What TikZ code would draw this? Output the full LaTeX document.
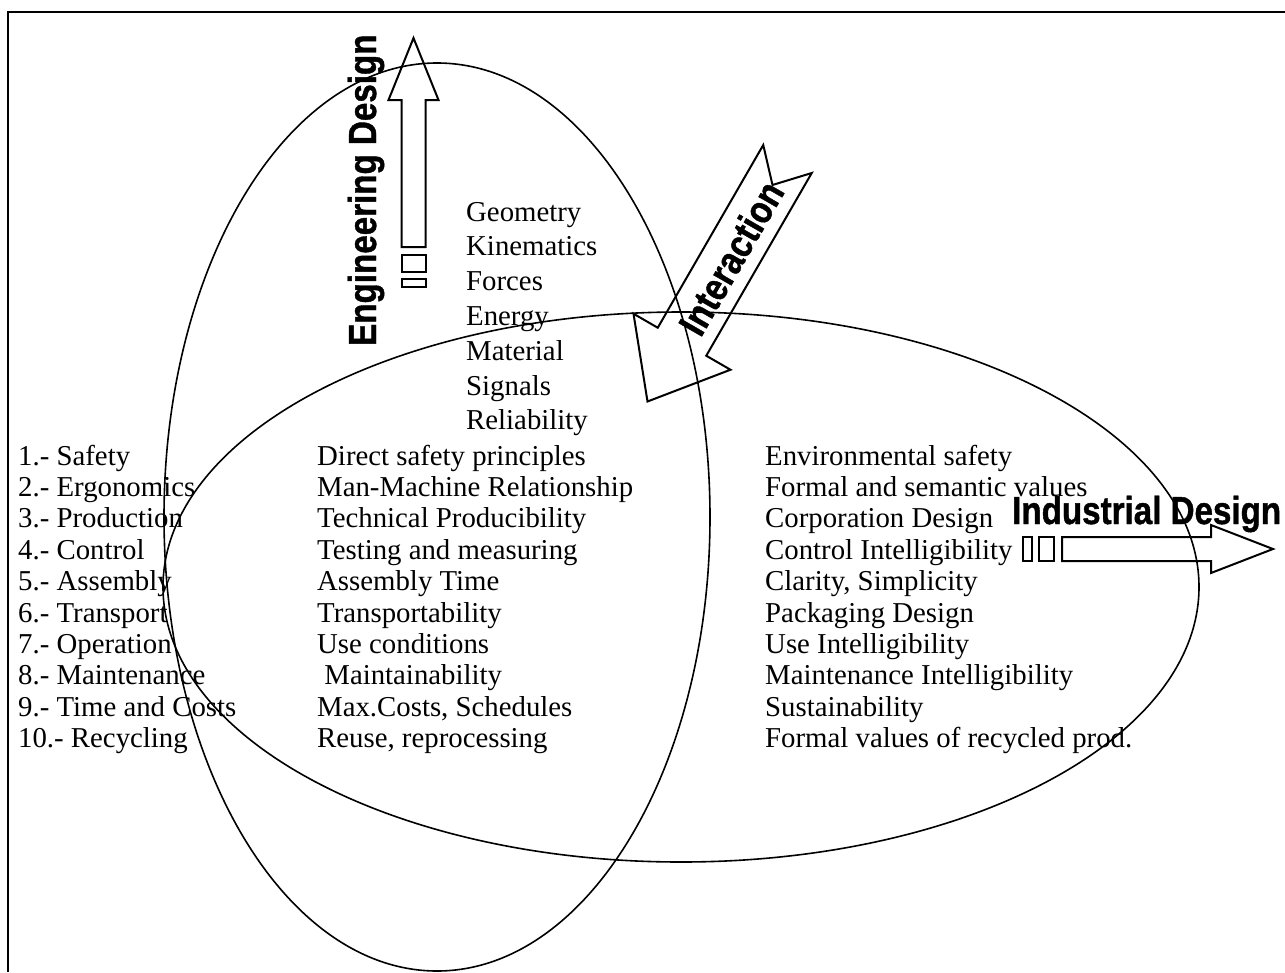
\documentclass[tikz,border=0pt]{standalone}
\usepackage{fontspec}
\setmainfont{Liberation Serif}
\newfontfamily\headfont{Liberation Sans}[BoldFeatures = {FakeBold = 1.2}]
\usepackage{tikz}

\newcommand{\narrow}[1]{\scalebox{0.85}[1]{#1}}

\begin{document}
\begin{tikzpicture}[
            x = 1pt,
            y = -1pt,
            item/.style = {anchor = base west, inner sep = 0pt,
                font = \fontsize{28.8}{31}\selectfont},
            heading/.style = {inner sep = 0pt,
                font = \headfont\bfseries\fontsize{39}{42}\selectfont},
            venn/.style = {draw, line width = 1.6pt},
            block/.style = {draw, line width = 2pt}
        ]
        \useasboundingbox (0,0) rectangle (1285,972);
        \draw[line width = 2pt] (8,972) -- (8,12) -- (1285,12);

        \draw[venn] (437,517) ellipse [x radius = 273, y radius = 454];
        \draw[venn] (681,587) ellipse [x radius = 518, y radius = 275];

        % striped arrows
        \draw[block] (401.5,247) -- (401.5,100) -- (388.5,100) -- (413.5,38)
            -- (438.5,100) -- (425.5,100) -- (425.5,247) -- cycle;
        \draw[block] (401.5,255) rectangle (425.5,272);
        \draw[block] (401.5,279) rectangle (425.5,287);

        \draw[block] (1062,537) -- (1211,537) -- (1211,525) -- (1273,549)
            -- (1211,573) -- (1211,561) -- (1062,561) -- cycle;
        \draw[block] (1039,537) rectangle (1054,561);
        \draw[block] (1023,537) rectangle (1032,561);

        % notched arrow
        \begin{scope}[shift = {(787.5,159)}, rotate = 240]
            \draw[block] (0,-28) -- (211,-28) -- (211,-56) -- (280,0)
                -- (211,56) -- (211,28) -- (0,28) -- (30,0) -- cycle;
        \end{scope}

        \node[heading, rotate = 90, anchor = base west] (E) at (376,346) {\narrow{Engineering Design}};
        \node[heading, anchor = base west] (I) at (1012,524) {\narrow{Industrial Design}};
        \node[heading, rotate = 60] (X) at (731,258) {\narrow{Interaction}};

        \foreach \txt [count = \i] in {Geometry, Kinematics, Forces, Energy,
                Material, Signals, Reliability}
            \node[item] (g\i) at (466, {221 + 34.8*(\i-1)}) {\txt};

        \foreach \txt [count = \i] in {1.- Safety, 2.- Ergonomics, 3.- Production,
                4.- Control, 5.- Assembly, 6.- Transport, 7.- Operation,
                8.- Maintenance, 9.- Time and Costs, 10.- Recycling}
            \node[item] (l\i) at (18, {465 + 31.4*(\i-1)}) {\txt};

        \foreach \txt [count = \i] in {Direct safety principles,
                Man-Machine Relationship, Technical Producibility,
                Testing and measuring, Assembly Time, Transportability,
                Use conditions, \ Maintainability, {Max.Costs, Schedules},
                {Reuse, reprocessing}}
            \node[item] (m\i) at (317, {465 + 31.4*(\i-1)}) {\txt};

        \foreach \txt [count = \i] in {Environmental safety,
                Formal and semantic values, Corporation Design,
                Control Intelligibility, {Clarity, Simplicity}, Packaging Design,
                Use Intelligibility, Maintenance Intelligibility, Sustainability,
                Formal values of recycled prod.}
            \node[item] (r\i) at (765, {465 + 31.4*(\i-1)}) {\txt};
\end{tikzpicture}
\end{document}
